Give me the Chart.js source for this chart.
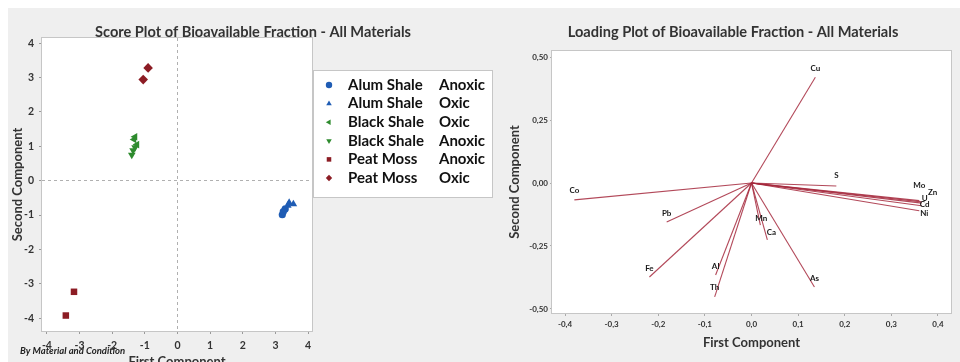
<!DOCTYPE html>
<html>
<head>
<meta charset="utf-8">
<script src="https://cdn.jsdelivr.net/npm/chart.js@4.4.0/dist/chart.umd.min.js"></script>
<style>
  html, body { margin: 0; padding: 0; background: #fff; overflow: hidden; }
  body { width: 960px; height: 362px; position: relative; }
  .panel { position: absolute; top: 8px; height: 362px; background: #efefef; }
  #scorePanel { left: 8px; width: 487px; }
  #loadingPanel { left: 495px; width: 465px; }
  canvas { display: block; }
</style>
</head>
<body>
<div class="panel" id="scorePanel"><canvas id="scoreChart" width="487" height="362"></canvas></div>
<div class="panel" id="loadingPanel"><canvas id="loadingChart" width="465" height="362"></canvas></div>
<script>
const FONT = 'Lato, "Open Sans", sans-serif';

// score plot groups (material / condition), in legend order
const scoreMaterials = ['Alum Shale', 'Alum Shale', 'Black Shale', 'Black Shale', 'Peat Moss', 'Peat Moss'];
const scoreConditions = ['Anoxic', 'Oxic', 'Oxic', 'Anoxic', 'Anoxic', 'Oxic'];
const scoreFirst = [
  [3.21, 3.24, 3.30],
  [3.38, 3.42, 3.55],
  [-1.30, -1.33, -1.24],
  [-1.30, -1.36, -1.40],
  [-3.17, -3.42],
  [-0.90, -1.05]
];
const scoreSecond = [
  [-0.99, -0.90, -0.82],
  [-0.72, -0.64, -0.68],
  [1.28, 1.20, 1.05],
  [0.97, 0.88, 0.75],
  [-3.23, -3.92],
  [3.28, 2.94]
];
const scoreTicks = [-4, -3, -2, -1, 0, 1, 2, 3, 4];

// loading vectors
const loadingVars = ['Cu', 'S', 'Mo', 'Zn', 'U', 'Cd', 'Ni', 'Co', 'Pb', 'Fe', 'Al', 'Th', 'Mn', 'Ca', 'As'];
const loadingFirst = [0.137, 0.182, 0.360, 0.365, 0.365, 0.365, 0.360, -0.380, -0.182, -0.219, -0.077, -0.079, 0.019, 0.034, 0.135];
const loadingSecond = [0.420, -0.012, -0.070, -0.075, -0.080, -0.090, -0.110, -0.067, -0.155, -0.373, -0.365, -0.452, -0.167, -0.226, -0.413];
const loadingXTicks = [-0.4, -0.3, -0.2, -0.1, 0, 0.1, 0.2, 0.3, 0.4];
const loadingYTicks = [-0.5, -0.25, 0, 0.25, 0.5];

// marker look per group
const groupColors = ['#1f5cb4', '#1f5cb4', '#2e8b2e', '#2e8b2e', '#8c1c24', '#8c1c24'];
const groupStyles = ['circle', 'triangle', 'triangle', 'triangle', 'rect', 'rectRot'];
const groupRotation = [0, 0, -90, 180, 0, 0];
const groupRadius = [3.6, 4.4, 4.4, 4.4, 4.6, 4.8];

// label nudges for crowded vector ends (px)
const labelNudge = {
  Mo: [0, -15], Zn: [11, -9], U: [3, -5], Cd: [3, -1], Ni: [5, 3],
  S: [0, -11], Mn: [1, -7], Ca: [4, -8]
};

// white plot area with a thin frame
const plotFrame = {
  id: 'plotFrame',
  beforeDraw(chart) {
    const {ctx, chartArea: a} = chart;
    ctx.save();
    ctx.fillStyle = '#fff';
    ctx.fillRect(a.left, a.top, a.right - a.left, a.bottom - a.top);
    ctx.restore();
  },
  afterDraw(chart) {
    const {ctx, chartArea: a} = chart;
    ctx.save();
    ctx.strokeStyle = '#c6c6c6';
    ctx.lineWidth = 1;
    ctx.strokeRect(Math.round(a.left) - 0.5, Math.round(a.top) - 0.5, Math.round(a.right - a.left) + 1, Math.round(a.bottom - a.top) + 1);
    ctx.restore();
  }
};

// panel title and footnote
const panelText = {
  id: 'panelText',
  afterDraw(chart, args, opts) {
    const {ctx} = chart;
    ctx.save();
    ctx.fillStyle = '#333';
    ctx.textAlign = 'center';
    ctx.textBaseline = 'middle';
    ctx.font = 'bold 14.6px ' + FONT;
    ctx.fillText(opts.title, opts.titleX, opts.titleY);
    if (opts.note) {
      ctx.textAlign = 'left';
      ctx.font = 'italic bold 9.5px ' + FONT;
      ctx.fillStyle = '#222';
      ctx.fillText(opts.note, 12, 343);
    }
    ctx.restore();
  }
};

// two-column legend to the right of the score plot
const scoreLegend = {
  id: 'scoreLegend',
  afterDraw(chart) {
    const {ctx, chartArea} = chart;
    const left = chartArea.right + 1, top = 62, width = 179, height = 127;
    ctx.save();
    ctx.fillStyle = '#fff';
    ctx.fillRect(left, top, width, height);
    ctx.strokeStyle = '#c6c6c6';
    ctx.lineWidth = 1;
    ctx.strokeRect(left + 0.5, top + 0.5, width, height);
    ctx.textBaseline = 'middle';
    ctx.font = 'bold 15px ' + FONT;
    chart.data.datasets.forEach((ds, i) => {
      const y = top + 15 + i * 18.6;
      ctx.fillStyle = ds.backgroundColor;
      Chart.helpers.drawPoint(ctx, {pointStyle: ds.pointStyle, rotation: ds.pointRotation, radius: 3.2, borderWidth: 0}, left + 16, y);
      ctx.fillStyle = '#111';
      ctx.fillText(scoreMaterials[i], left + 35, y);
      ctx.fillText(scoreConditions[i], left + 126, y);
    });
    ctx.restore();
  }
};

const tickFont = size => ({family: FONT, size: size, weight: 'bold'});
const titleFont = {family: FONT, size: 13, weight: 'bold'};

new Chart(document.getElementById('scoreChart'), {
  type: 'scatter',
  data: {
    datasets: scoreMaterials.map((m, i) => ({
      label: m + ' ' + scoreConditions[i],
      data: scoreFirst[i].map((x, j) => ({x: x, y: scoreSecond[i][j]})),
      backgroundColor: groupColors[i],
      borderColor: groupColors[i],
      borderWidth: 0,
      pointStyle: groupStyles[i],
      pointRotation: groupRotation[i],
      pointRadius: groupRadius[i]
    }))
  },
  options: {
    responsive: false,
    animation: false,
    devicePixelRatio: 1,
    layout: {padding: {top: 30, right: 183, left: 0, bottom: 0}},
    plugins: {
      legend: {display: false},
      tooltip: {enabled: false},
      panelText: {
        title: 'Score Plot of Bioavailable Fraction - All Materials',
        titleX: 245, titleY: 24,
        note: 'By Material and Condition'
      }
    },
    scales: {
      x: {
        type: 'linear', min: -4.15, max: 4.12,
        afterBuildTicks: s => { s.ticks = scoreTicks.map(v => ({value: v})); },
        afterFit: s => { s.height = 39; },
        grid: {
          color: c => (c.tick && c.tick.value === 0 ? '#b0b0b0' : 'rgba(0,0,0,0)'),
          tickColor: '#9a9a9a', tickLength: 3
        },
        border: {display: false, dash: [3, 3]},
        ticks: {font: tickFont(10.5), color: '#333', padding: 5, maxRotation: 0, autoSkip: false},
        title: {display: true, text: 'First Component', font: titleFont, color: '#333', padding: {top: 0, bottom: 0}}
      },
      y: {
        type: 'linear', min: -4.37, max: 4.15,
        afterBuildTicks: s => { s.ticks = scoreTicks.map(v => ({value: v})); },
        afterFit: s => { s.width = 34; },
        grid: {
          color: c => (c.tick && c.tick.value === 0 ? '#b0b0b0' : 'rgba(0,0,0,0)'),
          tickColor: '#9a9a9a', tickLength: 3
        },
        border: {display: false, dash: [3, 3]},
        ticks: {font: tickFont(10.5), color: '#333', padding: 5, autoSkip: false},
        title: {display: true, text: 'Second Component', font: titleFont, color: '#333', padding: {top: 2, bottom: 0}}
      }
    }
  },
  plugins: [plotFrame, panelText, scoreLegend]
});

// labels at the end of each loading vector
const vectorLabels = {
  id: 'vectorLabels',
  afterDatasetsDraw(chart) {
    const {ctx} = chart;
    ctx.save();
    ctx.font = 'bold 8px ' + FONT;
    ctx.fillStyle = '#1a1a1a';
    ctx.textAlign = 'center';
    ctx.textBaseline = 'middle';
    chart.data.datasets.forEach((ds, i) => {
      const end = chart.getDatasetMeta(i).data[1];
      const nudge = labelNudge[ds.label] || [0, -9];
      ctx.fillText(ds.label, end.x + nudge[0], end.y + nudge[1]);
    });
    ctx.restore();
  }
};

new Chart(document.getElementById('loadingChart'), {
  type: 'scatter',
  data: {
    datasets: loadingVars.map((v, i) => ({
      label: v,
      data: [{x: 0, y: 0}, {x: loadingFirst[i], y: loadingSecond[i]}],
      showLine: true,
      borderColor: 'rgba(165, 40, 60, 0.85)',
      borderWidth: 1.1,
      pointRadius: 0,
      fill: false
    }))
  },
  options: {
    responsive: false,
    animation: false,
    devicePixelRatio: 1,
    layout: {padding: {top: 43, right: 9, left: 0, bottom: 0}},
    plugins: {
      legend: {display: false},
      tooltip: {enabled: false},
      panelText: {
        title: 'Loading Plot of Bioavailable Fraction - All Materials',
        titleX: 238, titleY: 24
      }
    },
    scales: {
      x: {
        type: 'linear', min: -0.428, max: 0.428,
        afterBuildTicks: s => { s.ticks = loadingXTicks.map(v => ({value: v})); },
        afterFit: s => { s.height = 57; },
        grid: {drawOnChartArea: false, tickColor: '#aaa', tickLength: 3},
        border: {display: false},
        ticks: {
          font: tickFont(8), color: '#333', padding: 4, maxRotation: 0, autoSkip: false,
          callback: v => v.toFixed(1).replace('.', ',')
        },
        title: {display: true, text: 'First Component', font: titleFont, color: '#333', padding: {top: 0, bottom: 19}}
      },
      y: {
        type: 'linear', min: -0.516, max: 0.524,
        afterBuildTicks: s => { s.ticks = loadingYTicks.map(v => ({value: v})); },
        afterFit: s => { s.width = 57; },
        grid: {drawOnChartArea: false, tickColor: '#aaa', tickLength: 2},
        border: {display: false},
        ticks: {
          font: tickFont(8), color: '#333', padding: 2, autoSkip: false,
          callback: v => v.toFixed(2).replace('.', ',')
        },
        title: {display: true, text: 'Second Component', font: titleFont, color: '#333', padding: {top: 12, bottom: 0}}
      }
    }
  },
  plugins: [plotFrame, panelText, vectorLabels]
});
</script>
</body>
</html>
